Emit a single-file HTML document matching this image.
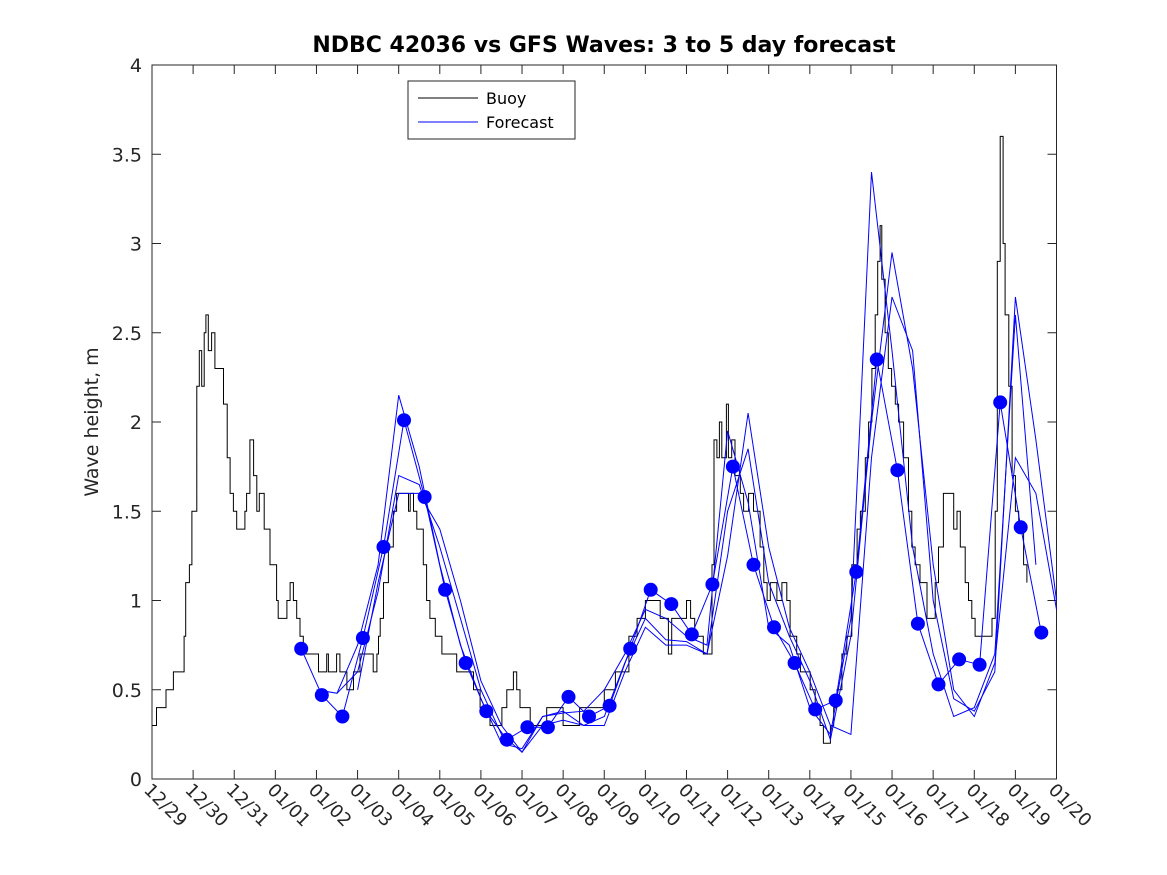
<!DOCTYPE html>
<html><head><meta charset="utf-8"><style>
html,body{margin:0;padding:0;background:#fff;}
svg{display:block;font-family:"DejaVu Sans","Liberation Sans",sans-serif;}
</style></head><body>
<svg id="chart" width="1167" height="875" viewBox="0 0 1167 875">
<rect width="1167" height="875" fill="#fff"/>
<text x="604" y="52" text-anchor="middle" font-size="22" font-weight="bold" fill="#000">NDBC 42036 vs GFS Waves: 3 to 5 day forecast</text>
<text transform="translate(98,422) rotate(-90)" text-anchor="middle" font-size="19" fill="#262626">Wave height, m</text>
<g id="grid"></g>
<g id="series"></g>
<g>
<rect x="408" y="81" width="167" height="58" fill="#fff" stroke="#262626" stroke-width="1"/>
<line x1="418" y1="98" x2="478" y2="98" stroke="#000" stroke-width="1"/>
<text x="486" y="104" font-size="16" fill="#000">Buoy</text>
<line x1="418" y1="122" x2="478" y2="122" stroke="#0000ff" stroke-width="1"/>
<text x="486" y="128" font-size="16" fill="#000">Forecast</text>
</g>
</svg>
<script>
const xTickLabels=["12/29","12/30","12/31","01/01","01/02","01/03","01/04","01/05","01/06","01/07","01/08","01/09","01/10","01/11","01/12","01/13","01/14","01/15","01/16","01/17","01/18","01/19","01/20"];
const yTickLabels=["0","0.5","1","1.5","2","2.5","3","3.5","4"];
const buoyDays=[0,0.11,0.34,0.52,0.78,0.82,0.91,0.97,1.09,1.15,1.21,1.27,1.31,1.37,1.45,1.53,1.65,1.74,1.83,1.90,1.98,2.06,2.22,2.26,2.30,2.38,2.47,2.55,2.61,2.73,2.79,2.87,3.03,3.07,3.20,3.28,3.36,3.44,3.52,3.60,3.68,4.01,4.05,4.25,4.29,4.49,4.57,4.74,4.90,5.06,5.34,5.38,5.47,5.51,5.55,5.63,5.75,5.87,5.95,6.20,6.24,6.28,6.36,6.44,6.60,6.68,6.76,6.89,7.05,7.41,7.82,7.98,8.22,8.47,8.51,8.63,8.79,8.87,8.95,9.16,9.20,9.6,10.0,10.4,10.9,11.0,11.27,11.6,11.8,12.0,12.36,12.56,12.64,12.93,13.0,13.1,13.2,13.41,13.54,13.62,13.67,13.74,13.80,13.86,13.97,14.02,14.10,14.18,14.31,14.39,14.51,14.63,14.79,14.88,14.96,15.04,15.20,15.32,15.44,15.52,15.68,15.77,16.01,16.13,16.25,16.33,16.46,16.50,16.58,16.66,16.78,16.90,17.02,17.15,17.23,17.35,17.43,17.51,17.59,17.65,17.71,17.75,17.83,17.91,17.99,18.08,18.16,18.28,18.40,18.48,18.56,18.68,18.85,18.97,19.05,19.13,19.25,19.42,19.50,19.58,19.66,19.78,19.86,19.94,20.02,20.35,20.43,20.51,20.56,20.63,20.70,20.75,20.84,20.92,21.00,21.08,21.20,21.28];
const buoyValues=[0.3,0.4,0.5,0.6,0.8,1.1,1.2,1.5,2.2,2.4,2.2,2.5,2.6,2.4,2.5,2.3,2.3,2.1,1.8,1.6,1.5,1.4,1.4,1.5,1.6,1.9,1.7,1.5,1.6,1.4,1.4,1.2,1.0,0.9,0.9,1.0,1.1,1.0,0.9,0.8,0.7,0.7,0.6,0.7,0.6,0.7,0.6,0.5,0.6,0.7,0.7,0.6,0.7,0.8,0.9,1.1,1.3,1.5,1.6,1.6,1.5,1.6,1.5,1.4,1.2,1.0,0.9,0.8,0.7,0.6,0.5,0.4,0.3,0.3,0.4,0.5,0.6,0.5,0.4,0.4,0.3,0.4,0.3,0.4,0.4,0.5,0.6,0.8,0.9,1.0,0.9,0.7,0.9,0.9,1.0,0.9,0.8,0.7,0.7,1.2,1.9,1.8,2.0,1.8,2.1,1.8,1.9,1.7,1.6,1.5,1.6,1.5,1.3,1.1,1.0,1.1,1.0,1.1,1.0,0.8,0.7,0.6,0.5,0.4,0.3,0.2,0.2,0.3,0.4,0.5,0.7,0.8,1.2,1.4,1.5,1.8,2.0,2.3,2.6,2.9,3.1,2.8,2.5,2.3,2.2,2.1,2.0,1.8,1.5,1.3,1.2,1.1,0.9,0.9,1.1,1.3,1.6,1.6,1.4,1.5,1.3,1.1,1.0,0.9,0.8,0.8,0.9,1.5,2.9,3.6,3.0,2.6,2.2,1.7,1.5,1.4,1.2,1.1];
const circleStart=3.63, circleStep=0.5;
const circleValues=[0.73,0.47,0.35,0.79,1.30,2.01,1.58,1.06,0.65,0.38,0.22,0.29,0.29,0.46,0.35,0.41,0.73,1.06,0.98,0.81,1.09,1.75,1.20,0.85,0.65,0.39,0.44,1.16,2.35,1.73,0.87,0.53,0.67,0.64,2.11,1.41,0.82];
const fcBStart=4.0;
const fcBValues=[0.50,0.48,0.75,1.2,2.15,1.75,1.2,0.75,0.45,0.2,0.17,0.35,0.37,0.38,0.5,0.7,0.95,0.9,0.8,0.75,1.95,1.55,0.85,0.75,0.4,0.25,0.9,3.4,2.4,1.3,0.7,0.35,0.4,0.7,2.6,1.2];
const fcCStart=4.5;
const fcCValues=[0.48,0.6,1.05,1.7,1.65,1.3,0.9,0.5,0.25,0.15,0.3,0.33,0.3,0.35,0.65,0.9,0.78,0.77,0.7,1.5,1.85,1.1,0.8,0.55,0.22,0.8,2.0,2.95,2.3,1.2,0.5,0.35,0.65,1.8,1.6,0.95];
const fcDStart=5.0;
const fcDValues=[0.5,1.1,1.6,1.6,1.4,1.0,0.55,0.3,0.15,0.35,0.38,0.3,0.3,0.6,0.85,0.75,0.75,0.7,1.25,2.05,1.3,0.85,0.6,0.3,0.25,1.8,2.7,2.4,1.0,0.45,0.38,0.6,2.7,1.9,1.0];

const NS="http://www.w3.org/2000/svg";
const L=152,R=1056.5,T=65,B=779,DAYS=22,YMAX=4;
function xs(d){return L+(R-L)*d/DAYS;}
function ys(v){return B-(B-T)*v/YMAX;}
const grid=document.getElementById('grid'), series=document.getElementById('series');
function mk(tag,attrs,parent){const e=document.createElementNS(NS,tag);for(const k in attrs)e.setAttribute(k,attrs[k]);parent.appendChild(e);return e;}

let pts=[];
buoyDays.forEach((d,i)=>{
  const x=xs(d).toFixed(1);
  if(i>0) pts.push(x+','+ys(buoyValues[i-1]).toFixed(1));
  pts.push(x+','+ys(buoyValues[i]).toFixed(1));
});
const bl=mk('polyline',{points:pts.join(' '),fill:'none',stroke:'#000','stroke-width':1},series);


function fcLine(start,vals,name){
  const p=vals.map((v,i)=>xs(start+i*0.5).toFixed(1)+','+ys(v).toFixed(1));
  const e=mk('polyline',{points:p.join(' '),fill:'none',stroke:'#0000ff','stroke-width':1},series);
  
  
}
fcLine(fcBStart,fcBValues,'forecast-line-b');
fcLine(fcCStart,fcCValues,'forecast-line-c');
fcLine(fcDStart,fcDValues,'forecast-line-d');
fcLine(circleStart,circleValues,'forecast-line-a');
circleValues.forEach((v,i)=>{
  const c=mk('circle',{cx:xs(circleStart+i*circleStep).toFixed(1),cy:ys(v).toFixed(1),r:7,fill:'#0000ff'},series);
  
  
});

const box=mk('rect',{x:L,y:T,width:R-L,height:B-T,fill:'none',stroke:'#262626','stroke-width':1},grid);


xTickLabels.forEach((lab,i)=>{
  const x=xs(i);
  mk('line',{x1:x,y1:B,x2:x,y2:B-9,stroke:'#262626','stroke-width':1},grid);
  mk('line',{x1:x,y1:T,x2:x,y2:T+9,stroke:'#262626','stroke-width':1},grid);
  const t=mk('text',{transform:`translate(${x-9},${B+12}) rotate(45)`,'font-size':18,fill:'#262626'},grid);
  t.textContent=lab;
  
  
});
yTickLabels.forEach((lab,i)=>{
  const y=ys(i*0.5);
  mk('line',{x1:L,y1:y,x2:L+9,y2:y,stroke:'#262626','stroke-width':1},grid);
  mk('line',{x1:R,y1:y,x2:R-9,y2:y,stroke:'#262626','stroke-width':1},grid);
  const t=mk('text',{x:L-10,y:y+7,'text-anchor':'end','font-size':19,fill:'#262626'},grid);
  t.textContent=lab;
  
  
});
</script>
</body></html>
